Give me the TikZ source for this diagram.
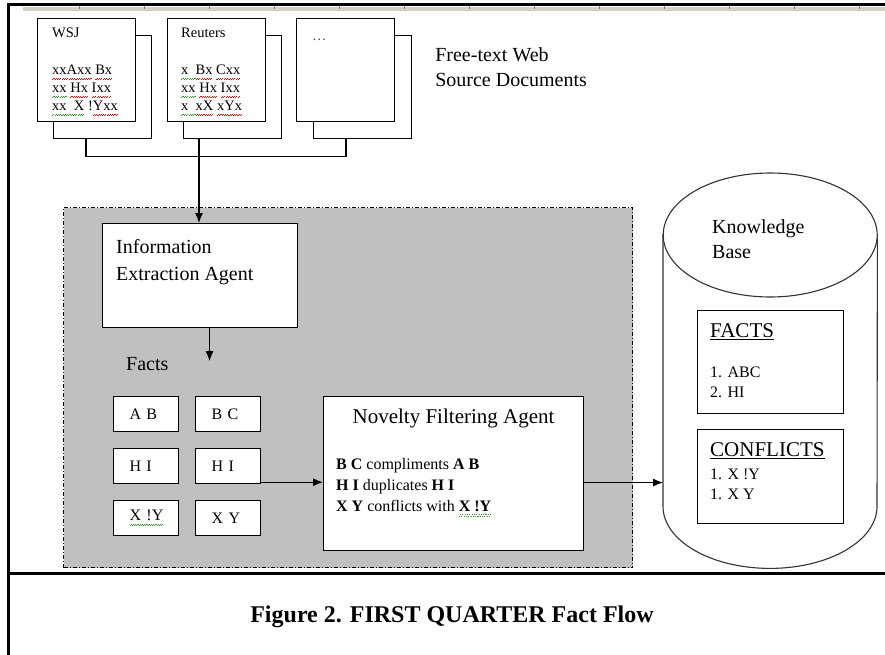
\documentclass[tikz,border=0pt]{standalone}
\usepackage{fontspec}
\setmainfont{Liberation Serif}
\usepackage{tikz}
\usetikzlibrary{arrows.meta, positioning, calc}

\definecolor{agentgrey}{HTML}{C0C0C0}
\definecolor{rulergrey}{HTML}{D4D0C8}
\definecolor{spellgreen}{HTML}{2E9A2E}

% spell-check squiggle under a word
\newsavebox{\spellbox}
\newcommand{\spellmark}[2]{\leavevmode\sbox{\spellbox}{#2}%
    \rlap{\textcolor{#1}{\hbox to \wd\spellbox{\xleaders\hbox{\rule[-5.2pt]{1.1pt}{0.9pt}\rule[-4pt]{1.1pt}{0.9pt}}\hfill}}}\usebox{\spellbox}}
\newcommand{\redwave}[1]{\spellmark{red}{#1}}
\newcommand{\greenwave}[1]{\spellmark{spellgreen}{#1}}

\begin{document}
\begin{tikzpicture}[x=1pt, y=-1pt,
    docbox/.style={rectangle, draw, line width=1.1pt, fill=white, minimum width=98pt, minimum height=103pt, anchor=north west, inner sep=0pt},
    agentbox/.style={rectangle, draw, line width=1.1pt, fill=white, anchor=north west, inner sep=0pt},
    factbox/.style={rectangle, draw, line width=1.1pt, fill=white, anchor=north west, minimum height=35pt, text width=33pt, inner xsep=16pt, inner ysep=0pt, align=left, font=\fontsize{16}{18}\selectfont},
    lbl/.style={inner sep=0pt, anchor=north west, align=left},
    kbline/.style={draw=black!80, line width=1.1pt},
    flow/.style={-{Latex[length=10pt, width=8pt]}, line width=1.1pt}]

    \useasboundingbox (0,0) rectangle (885,655);
    \fill[white] (0,0) rectangle (885,655);

    % ruler strip and table frame
    \fill[rulergrey] (23,7) rectangle (885,11);
    \foreach \x in {79,144,...,870}
        \draw[gray, line width=0.8pt] (\x,5) -- (\x,9);
    \draw[line width=3pt] (885,5) -- (8,5) -- (8,655);
    \draw[line width=3pt] (8,573) -- (885,573);

    % source documents
    \node[docbox] (wsjback) at (53,35) {};
    \node[docbox] (wsj) at (37,18) {};
    \node[docbox] (rtback) at (183,35) {};
    \node[docbox] (rt) at (167,18) {};
    \node[docbox] (moreback) at (313,35) {};
    \node[docbox] (more) at (296,18) {};

    \node[lbl, font=\fontsize{14.5}{18}\selectfont] (wsjtxt) at ([shift={(15pt,-10pt)}]wsj.north west)
        {WSJ\\[19pt]
         \redwave{xxAxx} \redwave{Bx}\\
         \greenwave{xx} \redwave{Hx} \redwave{Ixx}\\
         \greenwave{xx\ \ X} !\redwave{Yxx}};
    \node[lbl, font=\fontsize{14.5}{18}\selectfont] (rttxt) at ([shift={(14pt,-10pt)}]rt.north west)
        {Reuters\\[19pt]
         \greenwave{x\ \ }\redwave{Bx} \redwave{Cxx}\\
         \greenwave{xx} \redwave{Hx} \redwave{Ixx}\\
         \greenwave{x\ \ }\redwave{xX} \redwave{xYx}};
    \node[inner sep=0pt, anchor=base west, font=\fontsize{14.5}{18}\selectfont, text=black!70] (moretxt)
        at ([shift={(16pt,-23pt)}]more.north west) {\dots};

    \node[lbl, font=\fontsize{20}{25}\selectfont] (srclbl) at ([shift={(23pt,-12pt)}]moreback.north east)
        {Free-text Web\\Source Documents};

    \draw[line width=1.1pt] ([xshift=33pt]wsjback.south west) -- ++(0,17) -| ([xshift=33pt]moreback.south west);
    \coordinate (rtdrop) at ([xshift=16pt]rtback.south west);

    % agents
    \node[draw, fill=agentgrey, dash pattern=on 4pt off 2pt on 1pt off 2pt, line width=1pt,
          minimum width=569pt, minimum height=360pt, anchor=north west, inner sep=0pt] (agents) at (63,207) {};

    \node[agentbox, minimum width=195pt, minimum height=104pt] (iea) at (102,223) {};
    \node[lbl, font=\fontsize{20}{27}\selectfont] (ieatxt) at ([shift={(14pt,-16pt)}]iea.north west)
        {Information\\Extraction Agent};
    \draw[flow] (rtdrop) -- (rtdrop |- iea.north);

    \coordinate (factsin) at ([xshift=9.5pt, yshift=-33pt]iea.south);
    \draw[flow] ([xshift=9.5pt]iea.south) -- (factsin);
    \node[lbl, font=\fontsize{20}{24}\selectfont] (factslbl) at (126,357) {Facts};

    \node[factbox] (ab) at (113,396) {A B};
    \node[factbox, right=16pt of ab] (bc) {B C};
    \node[factbox, below=16pt of ab] (hia) {H I};
    \node[factbox, below=16pt of bc] (hib) {H I};
    \node[factbox, below=16pt of hia] (xny) {\greenwave{X !Y}};
    \node[factbox, below=16pt of hib] (xy) {X Y};

    \node[agentbox, minimum width=260pt, minimum height=154pt] (nfa) at (323,396) {};
    \node[inner sep=0pt, anchor=north, font=\fontsize{21}{25}\selectfont] (nfatitle) at ([yshift=-13pt]nfa.north)
        {Novelty Filtering Agent};
    \node[lbl, font=\fontsize{16}{21}\selectfont] (nfabody) at ([shift={(13pt,-62pt)}]nfa.north west)
        {\textbf{B C} compliments \textbf{A B}\\
         \textbf{H I} duplicates \textbf{H I}\\
         \textbf{X Y} conflicts with \textbf{\greenwave{X !Y}}};

    \coordinate (hiout) at ([yshift=2pt]hib.south east);
    \draw[flow] (hiout) -- (hiout -| nfa.west);

    % knowledge base
    \node[minimum width=214pt, minimum height=271pt, inner sep=0pt, anchor=north west] (kb) at (663,235) {};
    \draw[kbline, fill=white] (kb.north west) -- (kb.south west)
        arc[start angle=180, end angle=360, x radius=107pt, y radius=62pt] -- (kb.north east) -- cycle;
    \draw[kbline, fill=white] (kb.north) ellipse[x radius=107pt, y radius=62pt];
    \node[lbl, font=\fontsize{20}{25}\selectfont] (kbtxt) at ([shift={(49pt,16pt)}]kb.north west)
        {Knowledge\\Base};

    \node[agentbox, minimum width=146pt, minimum height=103pt] (kbfacts) at (697,310) {};
    \node[lbl, font=\fontsize{21}{25}\selectfont] (kbfactshd) at ([shift={(13pt,-13pt)}]kbfacts.north west)
        {\underline{FACTS}};
    \node[lbl, font=\fontsize{16}{20}\selectfont] (kbfactsls) at ([shift={(13pt,-57pt)}]kbfacts.north west)
        {1. ABC\\2. HI};

    \node[agentbox, minimum width=146pt, minimum height=94pt] (kbconf) at (697,429) {};
    \node[lbl, font=\fontsize{21}{25}\selectfont] (kbconfhd) at ([shift={(13pt,-13pt)}]kbconf.north west)
        {\underline{CONFLICTS}};
    \node[lbl, font=\fontsize{16}{20}\selectfont] (kbconfls) at ([shift={(13pt,-40pt)}]kbconf.north west)
        {1. X !Y\\1. X Y};

    \coordinate (nfaout) at ([yshift=-9pt]nfa.east);
    \draw[flow] (nfaout) -- (nfaout -| kb.west);

    \node[inner sep=0pt, anchor=base, font=\bfseries\fontsize{24}{28}\selectfont] (caption) at (452,622)
        {Figure 2. FIRST QUARTER Fact Flow};
\end{tikzpicture}
\end{document}
